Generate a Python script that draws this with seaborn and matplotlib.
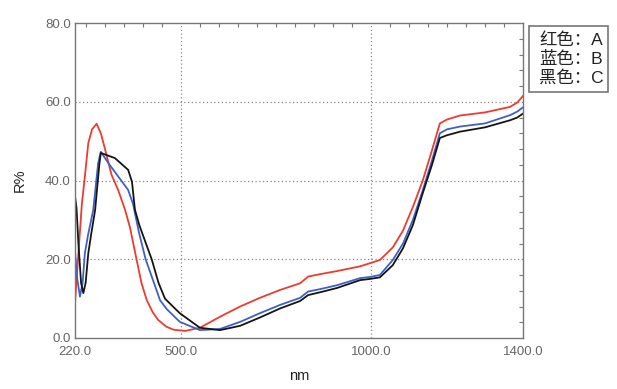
import seaborn as sns
import matplotlib.pyplot as plt
from matplotlib.patches import Rectangle
from matplotlib.ticker import MultipleLocator, FixedLocator
import pandas as pd

# 红色：A
nm_a = [220, 229, 238, 246, 255, 265, 277, 288, 299, 316, 334, 352, 365, 382, 395, 409,
        425, 439, 460, 480, 510, 549, 602, 655, 707, 760, 813, 834, 865, 910, 971, 997,
        1023, 1057, 1084, 1110, 1136, 1160, 1181, 1200, 1234, 1300, 1366, 1385, 1400]
r_a = [9, 21.5, 34, 41, 49.5, 53, 54.4, 52, 48, 41.5, 37.5, 32.5, 28, 20, 14, 9.6,
       6.5, 4.6, 2.9, 2.1, 1.8, 2.6, 5.4, 8.0, 10.2, 12.2, 13.9, 15.6, 16.2, 17, 18.2, 19,
       19.8, 23, 27.3, 33.3, 40, 47.6, 54.5, 55.5, 56.5, 57.3, 58.7, 59.8, 61.5]

# 蓝色：B
nm_b = [220, 226, 233, 240, 246, 254, 268, 281, 288, 308, 334, 360, 373, 388,
        406, 417, 444, 462, 496, 549, 602, 655, 707, 760, 813, 834, 865, 910, 971,
        997, 1023, 1057, 1084, 1110, 1136, 1160, 1181, 1200, 1234, 1300, 1366, 1385, 1400]
r_b = [22, 15, 10.5, 14, 21.5, 26, 32.5, 44.4, 47.3, 44.4, 41, 37.6, 34, 27,
       20, 17, 9.6, 7.3, 4.1, 2.0, 2.3, 4.1, 6.3, 8.4, 10.2, 11.8, 12.4, 13.4, 15.2,
       15.5, 16, 19.8, 24, 30, 37.5, 45, 52, 53, 53.7, 54.5, 56.6, 57.5, 58.6]

# 黑色：C
nm_c = [220, 224, 229, 236, 242, 248, 255, 262, 273, 284, 288, 325, 360, 370,
        378, 390, 405, 422, 440, 457, 480, 496, 549, 602, 655, 707, 760, 813, 834,
        865, 910, 971, 997, 1023, 1057, 1084, 1110, 1136, 1160, 1181, 1200, 1234, 1300,
        1366, 1385, 1400]
r_c = [36, 33, 24, 14, 11.4, 14, 21.5, 26, 32.5, 44, 47, 45.7, 42.7, 39.7,
       32.5, 28.5, 24.5, 20, 14, 10, 7.8, 6.3, 2.6, 2.0, 3.1, 5.2, 7.5, 9.4, 10.9,
       11.6, 12.7, 14.7, 15, 15.4, 18.5, 22.8, 28.7, 36.8, 43.9, 50.8, 51.5, 52.4, 53.5,
       55.3, 56, 57]

legend_lines = ["红色：A", "蓝色：B", "黑色：C"]

df = pd.concat([
    pd.DataFrame({"nm": nm_a, "R": r_a, "sample": "A"}),
    pd.DataFrame({"nm": nm_b, "R": r_b, "sample": "B"}),
    pd.DataFrame({"nm": nm_c, "R": r_c, "sample": "C"}),
])

sns.set_theme(style="white")
plt.rcParams["font.family"] = ["Liberation Sans", "DejaVu Sans"]

fig = plt.figure(figsize=(6.17, 3.89), dpi=100)
ax = fig.add_axes([75 / 617, 51 / 389, 448 / 617, 315 / 389])

sns.lineplot(data=df, x="nm", y="R", hue="sample", estimator=None, sort=False,
             palette={"A": "#ee3b2f", "B": "#4060c4", "C": "#151515"},
             linewidth=1.3, legend=False, ax=ax)

ax.set_xlim(220, 1400)
ax.set_ylim(0, 80)
ax.xaxis.set_major_locator(FixedLocator([220, 500, 1000, 1400]))
ax.xaxis.set_minor_locator(MultipleLocator(50))
ax.yaxis.set_major_locator(MultipleLocator(20))
ax.yaxis.set_minor_locator(MultipleLocator(4))
ax.xaxis.set_major_formatter(lambda v, p: f"{v:.1f}")
ax.yaxis.set_major_formatter(lambda v, p: f"{v:.1f}")

ax.tick_params(which="both", direction="in", top=True, right=True,
               color="#777777", labelcolor="#666666", labelsize=9.5)
ax.tick_params(which="major", length=0, pad=3)
ax.tick_params(which="minor", length=3, width=0.8)
ax.tick_params(axis="x", which="major", pad=6)

for v in [500, 1000]:
    ax.axvline(v, color="#888888", linestyle=(0, (1, 2)), linewidth=0.9, zorder=0)
for v in [20, 40, 60]:
    ax.axhline(v, color="#888888", linestyle=(0, (1, 2)), linewidth=0.9, zorder=0)

for s in ax.spines.values():
    s.set_color("#777777")
    s.set_linewidth(1.0)

ax.set_xlabel("nm", fontsize=10.5, color="#222222", labelpad=8)
ax.set_ylabel("R%", fontsize=10.5, color="#222222", labelpad=13)

# legend box outside the axes, top right
fig.patches.append(Rectangle((529 / 617, 1 - 92 / 389), 79 / 617, 66 / 389,
                             transform=fig.transFigure, facecolor="white",
                             edgecolor="#777777", linewidth=1.2))
for i, txt in enumerate(legend_lines):
    fig.text(539 / 617, 1 - (40 + 19 * i) / 389, txt,
             family=["Liberation Sans", "Noto Sans CJK SC"], fontsize=12.5,
             color="#222222", va="center", ha="left")

fig.savefig("out.png", dpi=100)
